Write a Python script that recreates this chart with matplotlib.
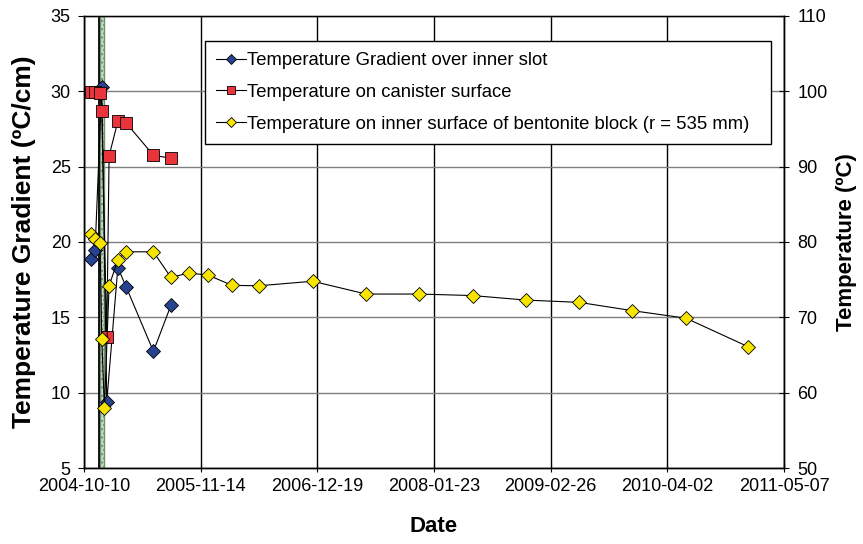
import numpy as np
import pandas as pd
import matplotlib
matplotlib.use("Agg")
import matplotlib.pyplot as plt
import matplotlib.dates as mdates
from matplotlib.lines import Line2D

plt.rcParams['font.family'] = ['Liberation Sans', 'DejaVu Sans']

# Gradient over inner slot (left axis, ºC/cm)
grad_dates = ["2004-11-03", "2004-11-17", "2004-12-10", "2004-12-27",
              "2005-02-03", "2005-03-03", "2005-06-05", "2005-08-04"]
grad_values = [18.9, 19.5, 30.3, 9.4, 18.3, 17.05, 12.75, 15.8]

# Canister surface temperature (right axis, ºC)
can_dates = ["2004-11-03", "2004-11-17", "2004-12-04", "2004-12-10", "2004-12-27",
             "2005-01-04", "2005-02-03", "2005-03-03", "2005-06-05", "2005-08-04"]
can_values = [99.9, 99.9, 99.8, 97.4, 67.35, 91.4, 96.0, 95.8, 91.5, 91.1]

# Inner surface of bentonite block (right axis, ºC)
bent_dates = ["2004-11-03", "2004-11-17", "2004-12-04", "2004-12-10", "2004-12-19",
              "2005-01-04", "2005-02-03", "2005-03-03", "2005-06-05", "2005-08-04",
              "2005-10-05", "2005-12-10", "2006-03-02", "2006-06-03", "2006-12-03",
              "2007-06-04", "2007-12-04", "2008-06-03", "2008-12-03", "2009-06-03",
              "2009-12-03", "2010-06-05", "2011-01-05"]
bent_values = [81.1, 80.4, 79.9, 67.1, 57.95, 74.2, 77.6, 78.7, 78.7, 75.3,
               75.9, 75.6, 74.25, 74.2, 74.8, 73.1, 73.1, 72.9, 72.3, 72.0,
               70.9, 69.9, 66.1]

labels = ["Temperature Gradient over inner slot",
          "Temperature on canister surface",
          "Temperature on inner surface of bentonite block (r = 535 mm)"]

start = pd.Timestamp("2004-10-10")
tick_dates = [start + pd.Timedelta(days=400 * k) for k in range(7)]
band_start, band_end = "2004-12-03", "2004-12-19"   # shaded event band
event_line = "2004-12-02"

fig = plt.figure(figsize=(8.63, 5.44), dpi=100)
ax = fig.add_axes([84 / 863, 1 - 468.3 / 544, 700 / 863, 452.6 / 544])
ax2 = ax.twinx()

# grid
for d in tick_dates:
    ax.axvline(d, color='black', lw=1.0, zorder=1)
for v in range(5, 36, 5):
    ax.axhline(v, color='#7f7f7f', lw=1.0, zorder=1)

# event band
ax.axvspan(pd.Timestamp(band_start), pd.Timestamp(band_end), facecolor='#c4dcc4',
           edgecolor='#6f8f6f', hatch='....', lw=1.0, zorder=2)
ax.axvline(pd.Timestamp(event_line), color='black', lw=1.3, zorder=2)

mk = dict(markeredgecolor='black', markeredgewidth=0.6)
ax.plot(pd.to_datetime(grad_dates), grad_values, color='black', lw=0.8,
        marker='D', markersize=7, markerfacecolor='#27438f', zorder=3, **mk)
ax2.plot(pd.to_datetime(can_dates), can_values, color='black', lw=0.8,
         marker='s', markersize=8, markerfacecolor='#e8343a', zorder=3, **mk)
ax2.plot(pd.to_datetime(bent_dates), bent_values, color='black', lw=0.8,
         marker='D', markersize=7.5, markerfacecolor='#f7e400', zorder=3, **mk)

ax.set_xlim(tick_dates[0], tick_dates[-1])
ax.set_ylim(5, 35)
ax2.set_ylim(50, 110)
ax.set_xticks(tick_dates)
ax.xaxis.set_major_formatter(mdates.DateFormatter('%Y-%m-%d'))
ax.set_yticks(range(5, 36, 5))
ax2.set_yticks(range(50, 111, 10))

for a in (ax, ax2):
    for s in a.spines.values():
        s.set_color('black')
        s.set_linewidth(1.0)
ax.spines['top'].set_color('#7f7f7f')

ax.tick_params(axis='y', direction='out', length=4.5, pad=5, labelsize=13)
ax.tick_params(axis='x', direction='inout', length=6, pad=4, labelsize=13)
ax2.tick_params(axis='y', direction='inout', length=7, pad=6, labelsize=13)

ax.set_ylabel("Temperature Gradient (ºC/cm)", fontsize=19, fontweight='bold')
ax2.set_ylabel("Temperature (ºC)", fontsize=16, fontweight='bold')
ax.set_xlabel("Date", fontsize=16, fontweight='bold')
ax.yaxis.set_label_coords(-0.068, 0.5)
ax2.yaxis.set_label_coords(1.074, 0.5)
ax.xaxis.set_label_coords(0.5, -0.105)

handles = [
    Line2D([], [], color='black', lw=0.8, marker='D', markersize=5,
           markerfacecolor='#27438f', **mk),
    Line2D([], [], color='black', lw=0.8, marker='s', markersize=6,
           markerfacecolor='#e8343a', **mk),
    Line2D([], [], color='black', lw=0.8, marker='D', markersize=5,
           markerfacecolor='#f7e400', **mk),
]
leg = ax2.legend(handles, labels, loc='upper left', mode='expand',
                 bbox_to_anchor=(205 / 863, 0, 566 / 863, 1 - 41 / 544),
                 bbox_transform=fig.transFigure, fontsize=13.3, frameon=True,
                 fancybox=False, framealpha=1, edgecolor='black',
                 handlelength=1.6, handletextpad=0.1, labelspacing=0.8,
                 borderaxespad=0, borderpad=0.6)
leg.get_frame().set_linewidth(1.0)

fig.savefig("out.png", dpi=100)
